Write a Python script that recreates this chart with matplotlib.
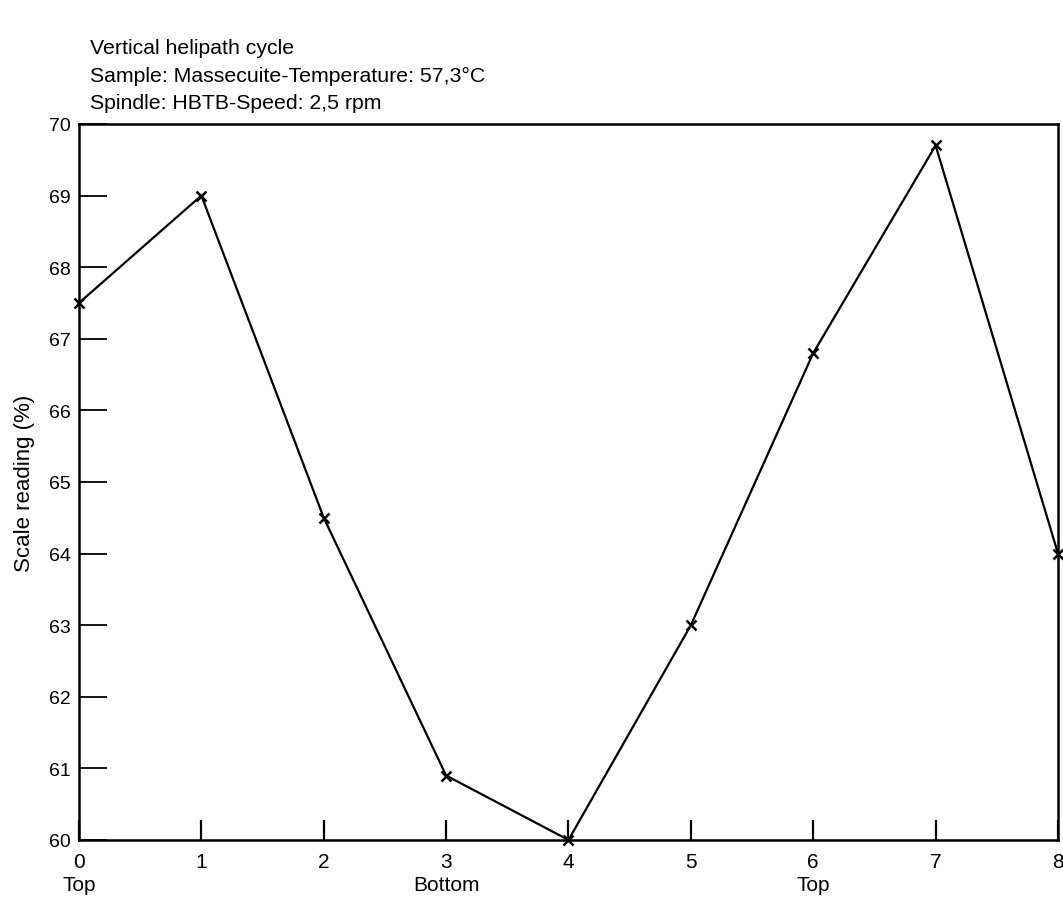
import matplotlib
matplotlib.use('Agg')
import matplotlib.pyplot as plt

plt.rcParams['font.family'] = ['Liberation Sans', 'DejaVu Sans']

position = [0, 1, 2, 3, 4, 5, 6, 7, 8]
reading = [67.5, 69.0, 64.5, 60.9, 60.0, 63.0, 66.8, 69.7, 64.0]
xlabels = ['0\nTop', '1', '2', '3\nBottom', '4', '5', '6\nTop', '7', '8']
yticks = [60, 61, 62, 63, 64, 65, 66, 67, 68, 69, 70]

fig = plt.figure(figsize=(10.63, 9.03), dpi=100)
ax = fig.add_axes([0.0743, 0.0687, 0.921, 0.7929])

ax.plot(position, reading, color='black', lw=1.6, marker='x', ms=7, mew=1.8, clip_on=False)

ax.set_xlim(0, 8)
ax.set_ylim(60, 70)
ax.set_xticks(position)
ax.set_xticklabels(xlabels, fontsize=15, linespacing=1.25)
ax.set_yticks(yticks)
ax.set_yticklabels([str(v) for v in yticks], fontsize=14)
ax.tick_params(axis='x', direction='in', length=14.5, width=1.6, pad=9)
ax.tick_params(axis='y', direction='in', length=20, width=1.3, pad=6)
for s in ax.spines.values():
    s.set_linewidth(1.8)

ax.set_ylabel('Scale reading (%)', fontsize=16, labelpad=10)

fig.text(0.085, 0.946, 'Vertical helipath cycle', fontsize=15.3, va='center')
fig.text(0.085, 0.915, 'Sample: Massecuite-Temperature: 57,3°C', fontsize=15.3, va='center')
fig.text(0.085, 0.885, 'Spindle: HBTB-Speed: 2,5 rpm', fontsize=15.3, va='center')

fig.savefig('out.png', dpi=100)
